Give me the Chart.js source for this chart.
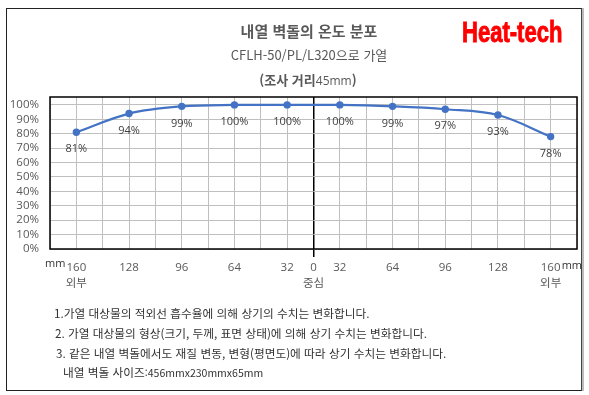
<!DOCTYPE html>
<html lang="ko">
<head>
    <meta charset="UTF-8">
    <title>내열 벽돌의 온도 분포</title>
    <script src="https://cdn.jsdelivr.net/npm/chart.js"></script>
    <style>
        html, body { margin: 0; padding: 0; background: #fff; }
        #wrap { position: relative; width: 589px; height: 395px; overflow: hidden; }
        #frame {
            position: absolute; left: 6px; top: 8px; width: 574px; height: 381px;
            border: 1.5px solid #222; border-right-color: #444;
            box-shadow: 2px 0 0 #bbb;
        }
        canvas { position: absolute; left: 0; top: 0; }
        .t { position: absolute; white-space: nowrap; color: #595959; font-family: "Noto Sans CJK KR", "Open Sans", sans-serif; }
        #t1 { left: 0; width: 618px; text-align: center; top: 20px; font-size: 15px; font-weight: bold; }
        #t2 { left: 0; width: 618px; text-align: center; top: 45px; font-size: 13px; }
        #t3 { left: 0; width: 616px; text-align: center; top: 70px; font-size: 13px; font-weight: bold; }
        #t3 span { font-weight: normal; font-size: 12px; font-family: "Open Sans", sans-serif; }
        #brand {
            position: absolute; left: 462px; top: 18px; color: #ff0000; white-space: nowrap;
            font-family: "Liberation Sans", Arial, sans-serif;
            font-weight: bold; font-size: 29px; line-height: 1;
            -webkit-text-stroke: 0.9px #ff0000;
            transform: scaleX(0.76); transform-origin: left top;
        }
        .n { position: absolute; white-space: nowrap; color: #333; font-size: 11.7px; font-family: "Noto Sans CJK KR", sans-serif; }
        .n span { font-size: 10.5px; }
    </style>
</head>
<body>
<div id="wrap">
    <div id="frame"></div>
    <canvas id="chart" width="589" height="395"></canvas>
    <div class="t" id="t1">내열 벽돌의 온도 분포</div>
    <div class="t" id="t2">CFLH-50/PL/L320으로 가열</div>
    <div class="t" id="t3">(조사 거리<span>45mm</span>)</div>
    <div id="brand">Heat-tech</div>
    <div class="n" style="left:54px; top:304px;">1.가열 대상물의 적외선 흡수율에 의해 상기의 수치는 변화합니다.</div>
    <div class="n" style="left:55px; top:324px;">2. 가열 대상물의 형상(크기, 두께, 표면 상태)에 의해 상기 수치는 변화합니다.</div>
    <div class="n" style="left:56px; top:344px;">3. 같은 내열 벽돌에서도 재질 변동, 변형(평면도)에 따라 상기 수치는 변화합니다.</div>
    <div class="n" style="left:63px; top:363px;">내열 벽돌 사이즈<span>:456mmx230mmx65mm</span></div>
</div>

<script>
    // positions along the brick, from one outer edge through the centre to the other
    const positions = ['160', '128', '96', '64', '32', '32', '64', '96', '128', '160'];
    const temps = [81, 94, 99, 100, 100, 100, 99, 97, 93, 78];
    const centerLabel = '0';
    const edgeText = '외부';
    const centerText = '중심';

    const points = temps.map((v, i) => ({ x: i + 0.5, y: v }));
    const mid = positions.length / 2;

    const font = { family: "'Open Sans', 'Noto Sans CJK KR', sans-serif", size: 11 };

    // frame around the plot, "mm" units and value labels
    const extras = {
        id: 'extras',
        afterDraw(chart) {
            const ctx = chart.ctx;
            const a = chart.chartArea;
            ctx.save();
            ctx.strokeStyle = '#000';
            ctx.lineWidth = 1.5;
            ctx.strokeRect(a.left, a.top, a.right - a.left, a.bottom - a.top);

            ctx.font = "11px 'Open Sans', sans-serif";
            ctx.fillStyle = '#333';
            ctx.textBaseline = 'middle';
            const xs = chart.scales.x;
            ctx.textAlign = 'right';
            ctx.fillText('mm', xs.getPixelForValue(0.5) - 11, 264);
            ctx.textAlign = 'left';
            ctx.fillText('mm', xs.getPixelForValue(positions.length - 0.5) + 11, 266);

            const meta = chart.getDatasetMeta(0);
            ctx.fillStyle = '#404040';
            ctx.textAlign = 'center';
            meta.data.forEach((p, i) => {
                ctx.fillText(temps[i] + '%', p.x, p.y + 17);
            });
            ctx.restore();
        }
    };

    new Chart(document.getElementById('chart'), {
        type: 'line',
        data: {
            datasets: [{
                data: points,
                borderColor: '#4472C4',
                backgroundColor: '#4472C4',
                borderWidth: 2.2,
                pointRadius: 2.6,
                tension: 0.35,
                fill: false
            }]
        },
        options: {
            responsive: false,
            animation: false,
            layout: { padding: { top: 97, right: 12, left: 0, bottom: 0 } },
            plugins: { legend: { display: false }, tooltip: { enabled: false } },
            scales: {
                x: {
                    type: 'linear',
                    min: 0,
                    max: positions.length,
                    afterFit: s => { s.height = 146; },
                    border: { display: false },
                    grid: {
                        color: c => c.tick && c.tick.value === mid ? '#000' : '#bfbfbf',
                        lineWidth: c => c.tick && c.tick.value === mid ? 1.5 : 1,
                        tickLength: 8,
                        tickColor: c => c.tick && c.tick.value === mid ? '#000' : 'rgba(0,0,0,0)'
                    },
                    ticks: {
                        stepSize: 0.5,
                        autoSkip: false,
                        maxRotation: 0,
                        padding: 2,
                        color: '#595959',
                        font: { family: font.family, size: 11.5, lineHeight: 1.45 },
                        callback: v => {
                            if (v === mid) return [centerLabel, centerText];
                            if (v % 1 !== 0.5) return '';
                            const i = v - 0.5;
                            if (i === 0 || i === positions.length - 1) return [positions[i], edgeText];
                            return positions[i];
                        }
                    }
                },
                y: {
                    min: 0,
                    max: 105.5,
                    afterFit: s => { s.width = 50; },
                    border: { display: false },
                    grid: { color: '#bfbfbf', drawTicks: false },
                    ticks: {
                        stepSize: 10,
                        autoSkip: false,
                        includeBounds: false,
                        padding: 11,
                        color: '#595959',
                        font: { family: font.family, size: 11.5 },
                        callback: v => v + '%'
                    }
                }
            }
        },
        plugins: [extras]
    });
</script>
</body>
</html>
